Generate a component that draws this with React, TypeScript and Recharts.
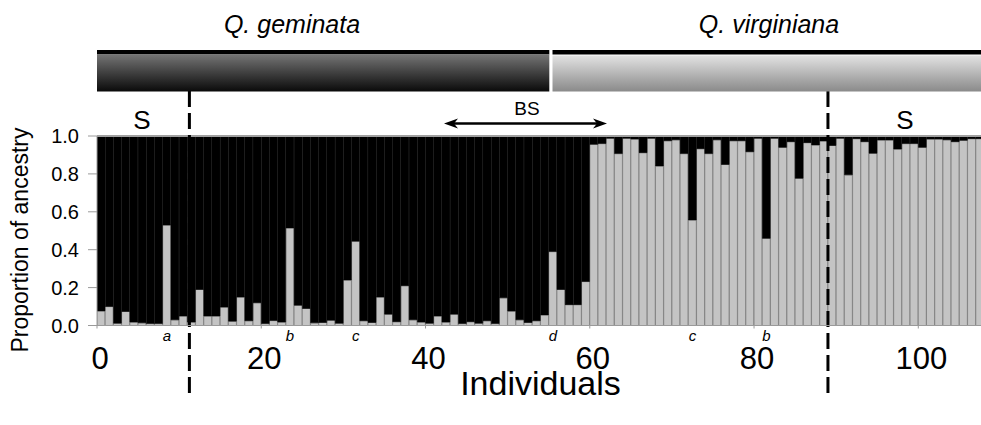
import React from 'react';
import { BarChart, Bar, XAxis, YAxis, ReferenceLine, ReferenceDot } from 'recharts';

// Proportion of Q. virginiana ancestry (grey) for each individual, left to right
const virginianaShare = [
  0.077, 0.1, 0.012, 0.074, 0.018, 0.014, 0.01, 0.01, 0.53, 0.03,
  0.05, 0.018, 0.19, 0.05, 0.05, 0.097, 0.023, 0.15, 0.025, 0.12,
  0.01, 0.026, 0.018, 0.515, 0.107, 0.09, 0.014, 0.016, 0.028, 0.012,
  0.24, 0.445, 0.025, 0.016, 0.15, 0.06, 0.02, 0.21, 0.03, 0.018,
  0.012, 0.05, 0.018, 0.06, 0.01, 0.02, 0.012, 0.025, 0.01, 0.146,
  0.076, 0.03, 0.016, 0.025, 0.056, 0.39, 0.19, 0.11, 0.11, 0.232,
  0.956, 0.96, 0.988, 0.907, 0.988, 0.984, 0.912, 0.988, 0.842, 0.975,
  0.98, 0.907, 0.557, 0.933, 0.907, 0.98, 0.85, 0.975, 0.975, 0.917,
  0.988, 0.46, 0.988, 0.94, 0.97, 0.777, 0.965, 0.953, 0.974, 0.95,
  0.988, 0.795, 0.986, 0.97, 0.909, 0.979, 0.979, 0.931, 0.96, 0.96,
  0.94, 0.984, 0.984, 0.98, 0.97, 0.977, 0.986, 0.986,
];
const individualIds = virginianaShare.map((_, i) => i + 1);

const xTicks = [0, 20, 40, 60, 80, 100];
const yTicks = [0, 0.2, 0.4, 0.6, 0.8, 1.0];

const markedIds = [9, 24, 32, 56, 73, 82];
const markLetters = ['a', 'b', 'c', 'd', 'c', 'b'];

const sampleBoundaries = [11.25, 89];
const speciesNames = ['Q. geminata', 'Q. virginiana'];
const sectionLabels = ['S', 'BS', 'S'];

const data = individualIds.map((id, i) => ({
  pos: id - 0.5,
  virg: virginianaShare[i],
  gem: 1 - virginianaShare[i],
}));

const FONT = '"Liberation Sans", Arial, sans-serif';

export default function App() {
  return (
    <div style={{ position: 'absolute', left: 0, top: 0, width: 981, height: 425, overflow: 'hidden', background: '#fff' }}>
      <BarChart
        width={985}
        height={425}
        data={data}
        margin={{ top: 136, right: 1, left: 0, bottom: 0 }}
        barCategoryGap={0}
        barGap={0}
        style={{ fontFamily: FONT }}
      >
        <XAxis
          type="number"
          dataKey="pos"
          domain={[0, 108]}
          ticks={xTicks}
          allowDataOverflow
          height={99.5}
          tickSize={3}
          tickMargin={18}
          tick={{ fontSize: 31, fill: '#000', fontFamily: FONT, dx: 3 }}
          stroke="#9a9a9a"
          label={{ value: 'Individuals', position: 'insideBottom', offset: 30, fontSize: 34, fill: '#000', fontFamily: FONT }}
        />
        <YAxis
          type="number"
          domain={[0, 1]}
          ticks={yTicks}
          width={97}
          tickSize={9}
          tickMargin={9}
          tickFormatter={(v: number) => v.toFixed(1)}
          tick={{ fontSize: 20, fill: '#000', fontFamily: FONT }}
          stroke="#9a9a9a"
        />
        <Bar dataKey="virg" stackId="s" fill="#c4c4c4" stroke="#7a7a7a" strokeWidth={0.8} isAnimationActive={false} />
        <Bar dataKey="gem" stackId="s" fill="#000" stroke="#000" strokeWidth={0.5} isAnimationActive={false} />
        <ReferenceLine y={1} stroke="#a0a0a0" strokeWidth={2} ifOverflow="visible" />
        {sampleBoundaries.map((b) => (
          <ReferenceLine
            key={b}
            segment={[{ x: b, y: 1.2375 }, { x: b, y: -0.367 }]}
            stroke="#000"
            strokeWidth={3}
            strokeDasharray="16 6"
            ifOverflow="visible"
          />
        ))}
        {markedIds.map((id, i) => (
          <ReferenceDot
            key={id}
            x={id - 0.5}
            y={-0.052}
            r={0}
            fill="none"
            stroke="none"
            ifOverflow="visible"
            label={{ value: markLetters[i], position: 'center', fontSize: 15, fontStyle: 'italic', fill: '#000', fontFamily: FONT }}
          />
        ))}
      </BarChart>
      <svg
        width={981}
        height={425}
        style={{ position: 'absolute', left: 0, top: 0, pointerEvents: 'none', fontFamily: FONT }}
      >
        <defs>
          <linearGradient id="gemGrad" x1="0" y1="0" x2="0" y2="1">
            <stop offset="0%" stopColor="#747474" />
            <stop offset="100%" stopColor="#0a0a0a" />
          </linearGradient>
          <linearGradient id="virGrad" x1="0" y1="0" x2="0" y2="1">
            <stop offset="0%" stopColor="#e2e2e2" />
            <stop offset="100%" stopColor="#8a8a8a" />
          </linearGradient>
        </defs>
        <text x={292} y={33} textAnchor="middle" fontSize={25} fontStyle="italic">{speciesNames[0]}</text>
        <text x={769} y={33} textAnchor="middle" fontSize={25} fontStyle="italic">{speciesNames[1]}</text>
        <rect x={97} y={50} width={452.3} height={4.5} fill="#000" />
        <rect x={97} y={54.5} width={452.3} height={37} fill="url(#gemGrad)" />
        <rect x={552.5} y={50} width={430} height={4.5} fill="#000" />
        <rect x={552.5} y={55.5} width={430} height={36} fill="url(#virGrad)" />
        <text x={142} y={129} textAnchor="middle" fontSize={26}>{sectionLabels[0]}</text>
        <text x={527} y={115} textAnchor="middle" fontSize={19}>{sectionLabels[1]}</text>
        <text x={905} y={129} textAnchor="middle" fontSize={26}>{sectionLabels[2]}</text>
        <line x1={450} y1={123.5} x2={601} y2={123.5} stroke="#000" strokeWidth={2.6} />
        <polygon points="607,123.5 593,118.5 597,123.5 593,128.5" fill="#000" />
        <polygon points="444,123.5 458,118.5 454,123.5 458,128.5" fill="#000" />
        <text
          transform="translate(28,240) rotate(-90)"
          textAnchor="middle"
          fontSize={23}
        >
          Proportion of ancestry
        </text>
      </svg>
    </div>
  );
}
